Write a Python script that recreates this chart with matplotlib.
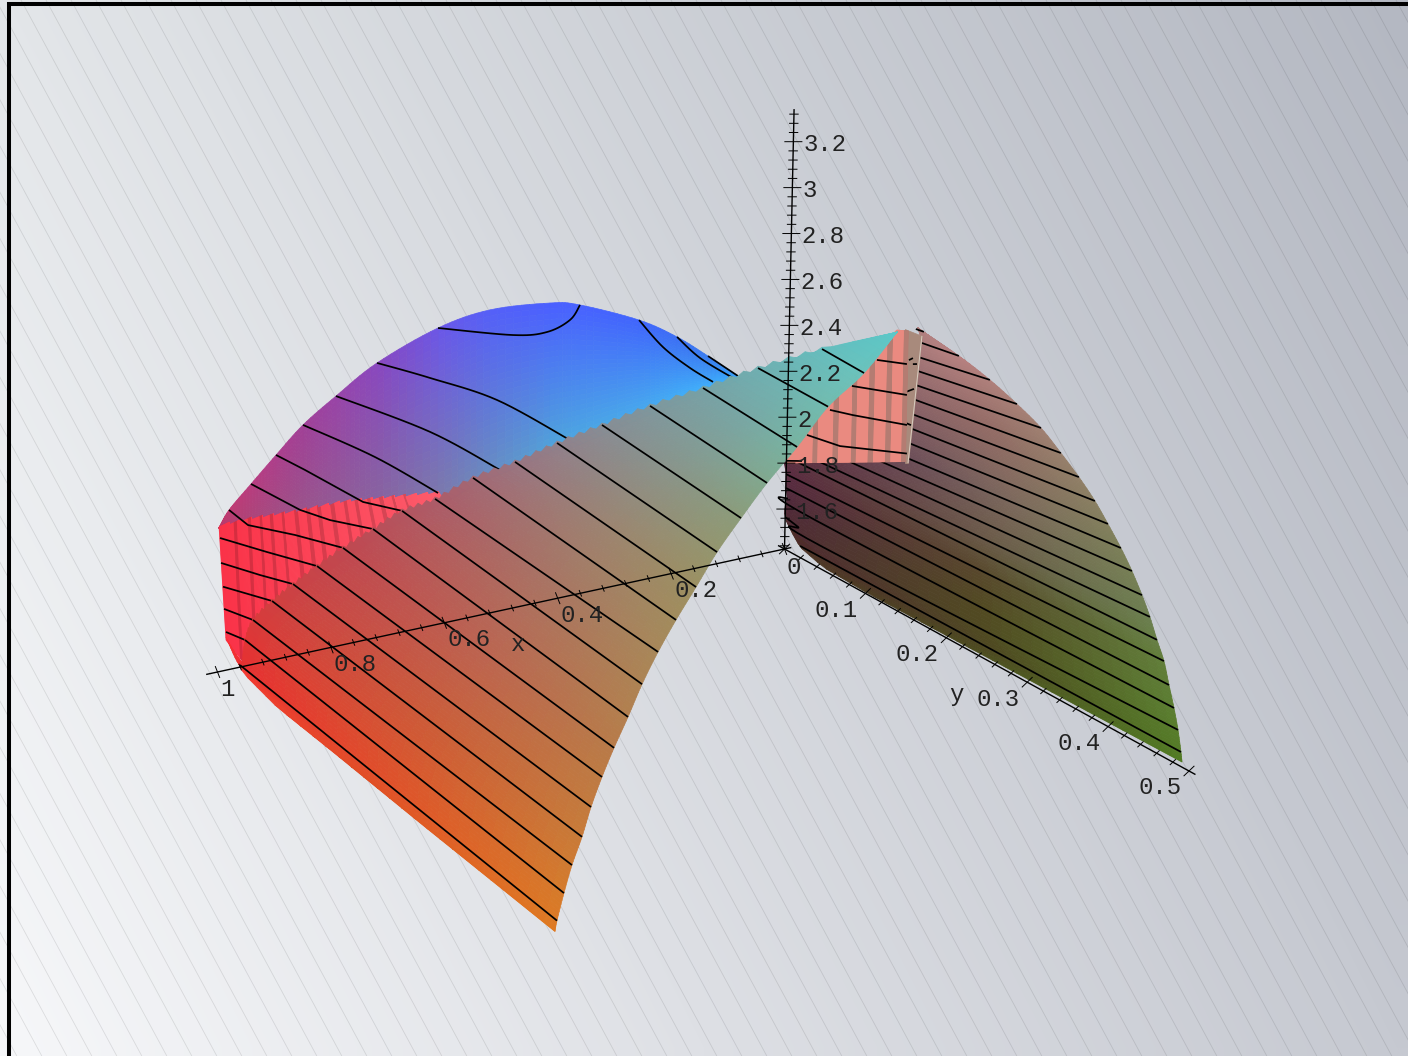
import numpy as np
import matplotlib
matplotlib.use("Agg")
import matplotlib.pyplot as plt
from matplotlib.colors import to_rgba
from mpl_toolkits.mplot3d.art3d import Line3DCollection

# ---------------- axis data ----------------
x_tick_labels = ['0.2', '0.4', '0.6', '0.8', '1']
x_tick_values = [0.2, 0.4, 0.6, 0.8, 1.0]
y_tick_labels = ['0.1', '0.2', '0.3', '0.4', '0.5']
y_tick_values = [0.1, 0.2, 0.3, 0.4, 0.5]
z_tick_labels = ['1.6', '1.8', '2', '2.2', '2.4', '2.6', '2.8', '3', '3.2']
z_tick_values = [1.6, 1.8, 2.0, 2.2, 2.4, 2.6, 2.8, 3.0, 3.2]
Z_BASE = 1.426

# ---------------- arch surface (edge y = 0) ----------------
arch_x_top = [1.0029, .9858, .9478, .9046, .8580, .8006, .7292, .6225, .5310, .4250, .3718, .2666, .1986, .1430, .0890]
arch_z_top = [2.055, 2.124, 2.217, 2.320, 2.426, 2.521, 2.627, 2.722, 2.752, 2.725, 2.688, 2.566, 2.456, 2.343, 2.227]
arch_x_low = [1.0029, .9851, .9461, .9018, .8539, .7955, .7232, .6157, .5245, .4192, .3664, .2628, .1960, .1416, .0888]
arch_z_low = [2.055, 2.036, 2.015, 1.992, 1.966, 1.935, 1.940, 1.948, 2.008, 2.060, 2.075, 2.129, 2.158, 2.186, 2.201]
arch_col_top = ['#c03868', '#c03c74', '#b83c80', '#ac3e8c', '#a04098', '#9844a8', '#8848c0', '#6a58e8',
                '#5460f8', '#4a60ff', '#4862ff', '#4066fc', '#3c70f4', '#3a7cf0', '#38a0f8']
arch_col_low = ['#b83868', '#b04070', '#a84878', '#a05080', '#985888', '#906090', '#88689a', '#7c7ca8',
                '#6890c0', '#50a8d8', '#4cace0', '#48b0ec', '#42b6f8', '#40b8ff', '#38b8ff']
# the first six contours lie wholly on the arch and are curved
arch_lines_x = [[.6225, .4893, .4292, .3889, .3718],
                [.7292, .6347, .5152, .3878],
                [.8006, .6326, .5072],
                [.8580, .7291, .6161],
                [.2666, .2231, .1744, .1331],
                [.1986, .1570, .0978],
                [.1430, .0890],
                [.9046, .8527, .7487, .6792],
                [.9478, .8600, .8065, .7299],
                [.9858, .9516, .8679, .7824],
                [1.0007, .9169, .8277],
                [.9980, .9284, .8695],
                [.9935, .9061],
                [.9909, .9391],
                [.9865, .9525]]
arch_lines_z = [[2.722, 2.620, 2.601, 2.632, 2.688],
                [2.627, 2.511, 2.351, 2.113],
                [2.521, 2.275, 2.042],
                [2.426, 2.217, 2.000],
                [2.566, 2.425, 2.308, 2.225],
                [2.456, 2.342, 2.223],
                [2.343, 2.227],
                [2.320, 2.227, 2.032, 1.956],
                [2.217, 2.057, 1.984, 1.904],
                [2.124, 2.040, 1.952, 1.850],
                [2.010, 1.904, 1.795],
                [1.900, 1.810, 1.739],
                [1.794, 1.685],
                [1.696, 1.620],
                [1.593, 1.540]]

# ---------------- ribbed red wall under the arch (y = 0) ----------------
wall_top_x = [1.0029, .9483, .8723, .7841, .6957, .6161]
wall_top_z = [2.059, 2.061, 2.050, 2.047, 2.021, 1.996]
wall_low_x = [.9862, .9434, .8570, .7783, .6121]
wall_low_z = [1.558, 1.404, 1.706, 1.795, 1.945]
wall_ribs_x = [.9741, .9512, .9300, .9124, .8912, .8683, .8471, .8277, .8048, .7820, .7624, .7399, .7186, .6974, .6762]

# ---------------- front surface: rows follow its contour lines ----------------
F_x0 = [.0266, .1588, .0539, .1506, .2438, .3282, .4072, .4809, .5547, .6212, .6792, .7299, .7824, .8277, .8695, .9061, .9391, .9525, .9604]
F_y0 = [.15, .15] + [0.0] * 17
F_z0 = [2.675, 2.672, 2.243, 2.208, 2.180, 2.142, 2.106, 2.063, 2.033, 1.977, 1.956, 1.904, 1.850, 1.795, 1.739, 1.685, 1.620, 1.540, 1.435]
F_x1 = [.0266, .4461, .5086, .5620, .6138, .6585, .6997, .7356, .7698, .8004, .8275, .8511, .8747, .8949, .9132, .9280, .9447, .9578, .9691]
F_y1 = [.15] + [.4] * 18
F_z1 = [2.675, 3.205, 3.092, 2.945, 2.816, 2.687, 2.561, 2.428, 2.303, 2.180, 2.054, 1.924, 1.802, 1.686, 1.565, 1.443, 1.329, 1.214, 1.100]
F_edge_x = [.9863, .9857, .9847, .9832, .9810, .9777, .9722]
F_edge_y = [0.0, .0085, .0207, .062, .13, .236, .4]
F_edge_z = [1.571, 1.522, 1.453, 1.384, 1.319, 1.213, 1.054]
F_color_rows = [0, 1, 3, 5, 7, 9, 12, 15, 18, 19]
F_colors = [['#5cc8c8', '#5cc8c8', '#5cc8c8'],
            ['#66bcbc', '#68c0bc', '#6cc4bc'],
            ['#78a0a4', '#78a8a4', '#78b4a0'],
            ['#888c94', '#8a9488', '#8c9c78'],
            ['#9a7480', '#9c8470', '#9c9060'],
            ['#ac5c68', '#a87464', '#a88858'],
            ['#c04850', '#bc6450', '#b87c48'],
            ['#d04040', '#cc5c38', '#c87c38'],
            ['#e83030', '#e05428', '#dc7c24'],
            ['#ff3038', '#e04c24', '#e07c20']]

# ---------------- right surface (x = 0 face) ----------------
R_y = [[.1571, .1571], [.1620, .2079], [.1603, .2464], [.1583, .2801], [.1562, .3101], [.1529, .3351],
       [.1521, .3577], [.1500, .3779], [.1492, .3944], [.1471, .4109], [.1142, .4250], [.0752, .4379],
       [.0410, .4482], [.0006, .4574], [0.0, .4665], [.0002, .4733], [.0017, .0365, .4800],
       [0.0, .0159, .0470, .4855], [.0189, .4897], [.0011, .0088, .0189, .0475, .1020, .4912]]
R_z = [[2.692, 2.692], [2.637, 2.669], [2.570, 2.639], [2.507, 2.599], [2.442, 2.553], [2.375, 2.492],
       [2.308, 2.431], [2.243, 2.366], [2.176, 2.298], [2.107, 2.225], [2.030, 2.152], [1.955, 2.072],
       [1.884, 1.997], [1.828, 1.915], [1.752, 1.840], [1.692, 1.749], [1.652, 1.623, 1.662],
       [1.565, 1.553, 1.525, 1.577], [1.476, 1.489], [1.554, 1.513, 1.471, 1.439, 1.432, 1.448]]
R_color_rows = [0, 1, 5, 9, 12, 14, 16, 19]
R_colors = [['#b08080', '#b08080', '#b08080'],
            ['#ac7c7c', '#b48080', '#b88080'],
            ['#8c6468', '#946c66', '#98806c'],
            ['#6c4e58', '#7c6a5c', '#7c8058'],
            ['#5e3444', '#6a5a48', '#6c8050'],
            ['#5a2c40', '#58482c', '#62803a'],
            ['#502a3a', '#524a22', '#5c8032'],
            ['#4e2c28', '#4c4a20', '#507c20']]

# ---------------- salmon ribbed wall and narrow strip (x = 0 face) ----------------
pink_y = [.0007, .1111, .1315, .1455]
pink_top = [1.880, 2.525, 2.634, 2.657]
pink_low_y = [.0007, .1455]
pink_low = [1.802, 2.088]
pink_ribs_y = [.0337, .0584, .0807, .1017, .1227, .1425]
pink_lines_y = [[.1078, .1446], [.0780, .1454], [.0518, .0801, .1463], [.0244, .0650, .1470], [.0005, .0190]]
pink_lines_z = [[2.458, 2.511], [2.287, 2.378], [2.132, 2.164, 2.249], [1.970, 2.000, 2.126], [1.811, 1.846]]
strip_y = [[.1412, .1622], [.1448, .1486]]
strip_z = [[2.657, 2.668], [2.081, 2.088]]
strip_dash_y = [[.1470, .1518], [.1519, .1569], [.1442, .1539], [.1450, .1512], [.1546, .1645]]
strip_dash_z = [[2.533, 2.551], [2.525, 2.535], [2.389, 2.421], [2.255, 2.258], [2.683, 2.690]]

# ---------------- projection of the reference (orthographic) ----------------
ORIGIN_PX = (784.5, 549.0)
UX, UY, UZ = (-567.0, 123.0), (809.0, 444.0), (5.0, -229.6)

W, H = 1408, 1056
fig = plt.figure(figsize=(W / 100, H / 100), dpi=100)

# background gradient, hatch and frame
bg = fig.add_axes([0, 0, 1, 1], zorder=0)
tl, tr, bl, br = [np.array(to_rgba(c)[:3]) for c in ('#e3e6e9', '#b4b8c2', '#f6f7f9', '#c6c9d1')]
gu, gv = np.meshgrid(np.linspace(0, 1, 64), np.linspace(0, 1, 64))
gu, gv = gu[..., None], gv[..., None]
grad = (1 - gv) * ((1 - gu) * tl + gu * tr) + gv * ((1 - gu) * bl + gu * br)
bg.imshow(grad, extent=(0, W, H, 0), interpolation='bilinear', aspect='auto')
for x0 in np.arange(21 - 700, W, 25):
    bg.plot([x0, x0 + H / 1.85], [0, H], color='#000000', alpha=0.10, lw=0.6, solid_capstyle='butt')
bg.plot([8.8, 8.8], [H, 2.3], color='black', lw=2.9, solid_capstyle='butt')
bg.plot([7, W], [4.3, 4.3], color='black', lw=2.9, solid_capstyle='butt')
bg.set_xlim(0, W)
bg.set_ylim(H, 0)
bg.set_xticks([])
bg.set_yticks([])
bg.axis('off')

ax = fig.add_axes([0, 0, 1, 1], projection='3d', computed_zorder=False, zorder=1)
ax.set_xticks([])
ax.set_yticks([])
ax.set_zticks([])
ax.set_axis_off()
ax.patch.set_alpha(0)
ax.apply_aspect = lambda position=None: None

# overlay for the tick labels, in the same projected coordinates
over = fig.add_axes([0, 0, 1, 1], zorder=2)
over.set_xlim(0, W)
over.set_ylim(H, 0)
over.set_xticks([])
over.set_yticks([])
over.patch.set_alpha(0)
over.axis('off')


def to_px(x, y, z):
    d = z - Z_BASE
    return (ORIGIN_PX[0] + x * UX[0] + y * UY[0] + d * UZ[0],
            ORIGIN_PX[1] + x * UX[1] + y * UY[1] + d * UZ[1])


def get_proj():
    inv = ax.transData.inverted()

    def disp(p):
        return np.array([p[0], H - p[1]], float)
    o = inv.transform(disp(ORIGIN_PX))
    ex = inv.transform(disp((ORIGIN_PX[0] + UX[0], ORIGIN_PX[1] + UX[1]))) - o
    ey = inv.transform(disp((ORIGIN_PX[0] + UY[0], ORIGIN_PX[1] + UY[1]))) - o
    ez = inv.transform(disp((ORIGIN_PX[0] + UZ[0], ORIGIN_PX[1] + UZ[1]))) - o
    t = o - ez * Z_BASE
    r0 = np.array([ex[0], ey[0], ez[0]])
    r1 = np.array([ex[1], ey[1], ez[1]])
    r2 = np.cross(r0, r1)
    r2 = r2 / np.linalg.norm(r2)
    return np.array([[*r0, t[0]], [*r1, t[1]], [*r2, 0.0], [0, 0, 0, 1.0]])


ax.get_proj = get_proj


def rgba(c):
    return np.array(to_rgba(c))


def resample_row(row, m):
    row = np.asarray(row, float)
    s = np.r_[0, np.cumsum(np.linalg.norm(np.diff(row, axis=0), axis=1))]
    if s[-1] == 0:
        return np.repeat(row[:1], m, axis=0)
    t = np.linspace(0, s[-1], m)
    return np.column_stack([np.interp(t, s, row[:, k]) for k in range(3)])


def refine_rows(A, sub):
    n = A.shape[0]
    u = np.linspace(0, n - 1, (n - 1) * sub + 1)
    i = np.clip(np.floor(u).astype(int), 0, n - 2)
    f = (u - i)[:, None, None]
    return A[i] * (1 - f) + A[i + 1] * f


def smooth_rows(A, sub):
    """Rounded rendering between read rows (Catmull-Rom), so curved edges do not show corners."""
    n = A.shape[0]
    u = np.linspace(0, n - 1, (n - 1) * sub + 1)
    i = np.clip(np.floor(u).astype(int), 0, n - 2)
    f = (u - i)[:, None, None]
    p0, p1, p2, p3 = A[np.clip(i - 1, 0, n - 1)], A[i], A[i + 1], A[np.clip(i + 2, 0, n - 1)]
    return 0.5 * (2 * p1 + (p2 - p0) * f + (2 * p0 - 5 * p1 + 4 * p2 - p3) * f ** 2 + (3 * p1 - p0 - 3 * p2 + p3) * f ** 3)


def row_mesh(rows, color_rows, colors, sub, m):
    P = np.stack([resample_row(r, m) for r in rows])
    tab = np.array([[rgba(c) for c in row] for row in colors])
    C = np.zeros((len(rows), m, 4))
    cols = np.linspace(0, 2, m)
    for ch in range(4):
        per_row = np.stack([np.interp(range(len(rows)), color_rows, tab[:, k, ch]) for k in range(3)], axis=1)
        for i in range(len(rows)):
            C[i, :, ch] = np.interp(cols, [0, 1, 2], per_row[i])
    return smooth_rows(P, sub), refine_rows(C, sub)


def surf(P, C, zorder):
    ax.plot_surface(P[..., 0], P[..., 1], P[..., 2], facecolors=np.clip(C, 0, 1), rstride=1, cstride=1,
                    shade=False, linewidth=0.5, antialiased=True, zorder=zorder)


def lines3d(xs, ys, zs, zorder, lw=1.25, color='black', rounded=False):
    seg = np.column_stack([xs, ys, zs])
    if rounded and len(seg) > 2:
        seg = smooth_rows(seg[:, None], 10)[:, 0]
    ax.add_collection3d(Line3DCollection([seg], colors=color, linewidths=lw, zorder=zorder, capstyle='butt'),
                        autolim=False)


# arch
n = len(arch_x_top)
T = np.column_stack([arch_x_top, np.zeros(n), arch_z_top])[:, None]
L = np.column_stack([arch_x_low, np.zeros(n), arch_z_low])[:, None]
top = smooth_rows(T, 8)[:, 0]
low = smooth_rows(L, 8)[:, 0]
ctop = refine_rows(np.array([rgba(c) for c in arch_col_top])[:, None], 8)[:, 0]
clow = refine_rows(np.array([rgba(c) for c in arch_col_low])[:, None], 8)[:, 0]
surf(refine_rows(np.stack([top, low]), 28), refine_rows(np.stack([ctop, clow]), 28), 2)

# right surface
rows = [np.column_stack([0 * np.array(a), a, b]) for a, b in zip(R_y, R_z)]
P, C = row_mesh(rows, R_color_rows, R_colors, 6, 40)
surf(P, C, 4)
for a, b in zip(R_y[1:-1], R_z[1:-1]):
    lines3d([0.0] * len(a), a, b, 5, rounded=True)

# narrow strip
sy = np.array(strip_y)
sz = np.array(strip_z)
S = np.stack([np.column_stack([0 * sy[i], sy[i], sz[i]]) for i in range(2)])
SC = np.stack([np.stack([rgba('#a88a7c'), rgba('#ac8c80')]), np.stack([rgba('#b09488'), rgba('#b09488')])])
surf(S, SC, 6)
lines3d([0, 0], [strip_y[0][1], strip_y[1][1]], [strip_z[0][1], strip_z[1][1]], 6.5, lw=0.7, color='#d8ccc0')
for a, b in zip(strip_dash_y, strip_dash_z):
    lines3d([0.0, 0.0], a, b, 6.6)

# salmon ribbed wall
ncol = 220
ys = np.linspace(pink_y[0], pink_y[-1], ncol)
zt = np.interp(ys, pink_y, pink_top)
zb = np.interp(ys, pink_low_y, pink_low)
P = np.stack([np.column_stack([0 * ys, ys, zt]), np.column_stack([0 * ys, ys, zb])])
dark = np.min(np.abs(ys[:, None] - np.array(pink_ribs_y)), axis=1) < 0.0032
colr = np.where(dark[:, None], rgba('#b47c72'), rgba('#ea8a80'))
surf(P, np.stack([colr, colr]), 7)
for a, b in zip(pink_lines_y, pink_lines_z):
    lines3d([0.0] * len(a), a, b, 8)

# red ribbed wall
ncol = 280
xt = np.linspace(wall_top_x[0], wall_top_x[-1], ncol)
xb = xt - (wall_top_x[0] - wall_low_x[0])
zt = np.interp(xt, wall_top_x[::-1], wall_top_z[::-1]) + 0.012 * ((np.arange(ncol) % 14) / 14.0)
zb = np.interp(xb, wall_low_x[::-1], wall_low_z[::-1])
P = np.stack([np.column_stack([xt, 0 * xt, zt]), np.column_stack([xb, 0 * xb, zb])])
f = (xt[0] - xt) / (xt[0] - xt[-1])
colr = (1 - f)[:, None] * rgba('#fb3248') + f[:, None] * rgba('#ff5c6c')
dark = np.min(np.abs(xt[:, None] - np.array(wall_ribs_x)), axis=1) < 0.003
colr[dark, :3] *= 0.85
surf(P, np.stack([colr, colr]), 9)

# arch contours run across the arch and the red wall
for k, (a, b) in enumerate(zip(arch_lines_x, arch_lines_z)):
    lines3d(a, [0.0] * len(a), b, 10, rounded=k < 6)

# front surface
rows = [np.array([[F_x0[i], F_y0[i], F_z0[i]], [F_x1[i], F_y1[i], F_z1[i]]]) for i in range(len(F_x0))]
rows.append(np.column_stack([F_edge_x, F_edge_y, F_edge_z]))
P, C = row_mesh(rows, F_color_rows, F_colors, 8, 32)
jag = 0.008 * (-1.0) ** np.arange(P.shape[0])
jag[:8] = 0
jag[-16:] = 0
P[:, 0, 2] += jag
surf(P, C, 11)
for i in range(1, len(F_x0)):
    lines3d([F_x0[i], F_x1[i]], [F_y0[i], F_y1[i]], [F_z0[i], F_z1[i]], 12)

# axes
AZ = 20
lines3d([-0.012, 1.02], [0, 0], [Z_BASE, Z_BASE], AZ, lw=1.0)
lines3d([0, 0], [-0.008, 0.508], [Z_BASE, Z_BASE], AZ, lw=1.0)
lines3d([0, 0], [0, 0], [Z_BASE, 3.342], AZ, lw=1.0)
for k in range(26):
    v = k * 0.04
    s = 1.0 if k % 5 == 0 else 0.55
    lines3d([v, v], [-.003 * s, .003 * s], [Z_BASE + .02 * s, Z_BASE - .02 * s], AZ, lw=0.7)
for k in range(26):
    v = k * 0.02
    s = 1.0 if k % 5 == 0 else 0.56
    lines3d([.0093 * s, -.0093 * s], [v, v], [Z_BASE - .0174 * s, Z_BASE + .0174 * s], AZ, lw=0.7)
for k in range(36, 84):
    v = k * 0.04
    s = 1.0 if k % 5 == 0 else 0.52
    lines3d([.0114 * s, -.0114 * s], [-.00315 * s, .00315 * s], [v, v], AZ, lw=0.7)

FONT = dict(family='Liberation Mono', fontsize=17.3, color='#222222')


def label(pos, dpx, dpy, s, ha):
    px, py = to_px(*pos)
    over.text(px + dpx, py + dpy, s, ha=ha, va='center', **FONT)


for v, s in zip(x_tick_values, x_tick_labels):
    label((v, 0, Z_BASE), 3, 17, s, 'left')
for v, s in zip(y_tick_values, y_tick_labels):
    label((0, v, Z_BASE), -29, 17, s, 'center')
for v, s in zip(z_tick_values, z_tick_labels):
    label((0, 0, v), 10, 3, s, 'left')
label((0, 0, Z_BASE), 9, 19, '0', 'center')
label((0.5, 0, Z_BASE), 17, 34, 'x', 'center')
label((0, 0.25, Z_BASE), -30, 35, 'y', 'center')

fig.savefig('out.png', dpi=100)
